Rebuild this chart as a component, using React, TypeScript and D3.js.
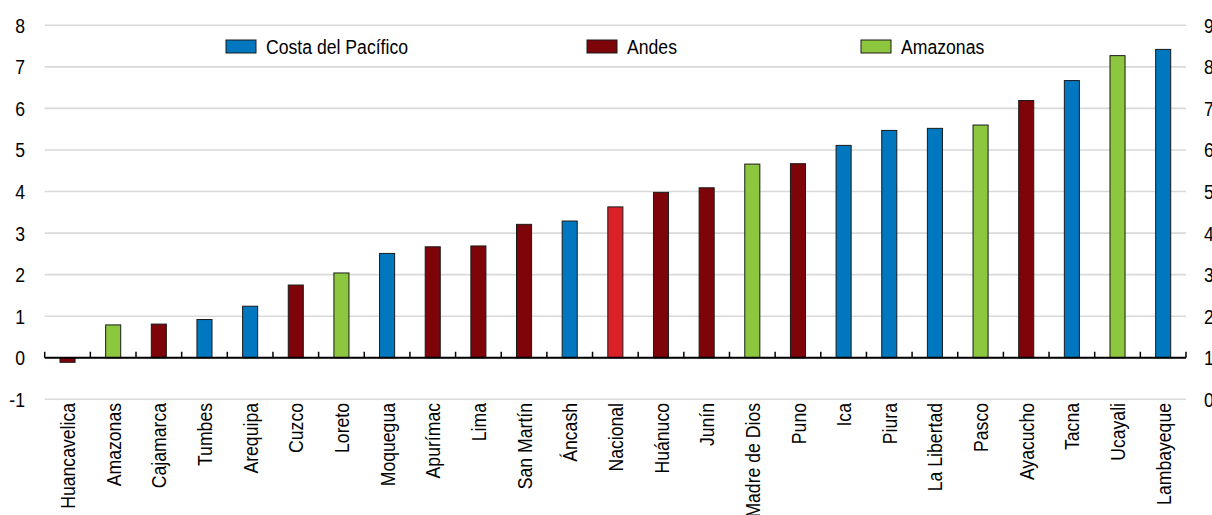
import React from "react";
import * as d3 from "d3";

const categories = ["Huancavelica","Amazonas","Cajamarca","Tumbes","Arequipa","Cuzco","Loreto","Moquegua","Apurímac","Lima","San Martín","Áncash","Nacional","Huánuco","Junín","Madre de Dios","Puno","Ica","Piura","La Libertad","Pasco","Ayacucho","Tacna","Ucayali","Lambayeque"];
const values = [-0.11,0.79,0.81,0.92,1.24,1.75,2.04,2.51,2.67,2.69,3.21,3.29,3.63,3.98,4.09,4.66,4.67,5.11,5.47,5.52,5.6,6.19,6.67,7.27,7.42];
const regions = ["Andes","Amazonas","Andes","Costa","Costa","Andes","Amazonas","Costa","Andes","Andes","Andes","Costa","Nacional","Andes","Andes","Amazonas","Andes","Costa","Costa","Costa","Amazonas","Andes","Costa","Amazonas","Costa"];
const leftTicks = [-1,0,1,2,3,4,5,6,7,8];
const rightTicks = [0,1,2,3,4,5,6,7,8,9];
const legendKeys = ["Costa","Andes","Amazonas"];
const legendLabels = ["Costa del Pacífico","Andes","Amazonas"];

const colors: Record<string,string> = {
  Costa: "#0077be",
  Andes: "#7d0408",
  Amazonas: "#8dc63f",
  Nacional: "#da2128",
};

const W = 1212, H = 515;
const X0 = 44.7, X1 = 1186;
const Y_TOP = 25.3, Y_BOT = 399.3;
const FONT = "'Liberation Sans', Arial, sans-serif";
const SX = 0.84;
const FS = 21;

export default function App() {
  const x = d3.scaleBand<string>().domain(categories).range([X0, X1]).paddingInner(0.67).paddingOuter(0.335);
  const y = d3.scaleLinear().domain([-1, 8]).range([Y_BOT, Y_TOP]);
  const yR = d3.scaleLinear().domain([0, 9]).range([Y_BOT, Y_TOP]);
  const step = (X1 - X0) / categories.length;
  const legendX = [226, 587, 861];

  return (
    <svg width={W} height={H} style={{ position: "absolute", left: 0, top: 0, background: "#fff" }}>
      {leftTicks.map((t) => (
        <line key={"g" + t} x1={X0} x2={X1} y1={y(t)} y2={y(t)} stroke="#d9d9d9" strokeWidth={1.6} />
      ))}
      {leftTicks.map((t) => (
        <text key={"l" + t} transform={`translate(25,${y(t) + 7.5}) scale(${SX},1)`} textAnchor="end" fontFamily={FONT} fontSize={FS} fill="#000">{t}</text>
      ))}
      {rightTicks.map((t) => (
        <text key={"r" + t} transform={`translate(1204,${yR(t) + 7.5}) scale(${SX},1)`} textAnchor="start" fontFamily={FONT} fontSize={FS} fill="#000">{t}</text>
      ))}
      {categories.map((c, i) => {
        const v = values[i];
        const y0 = y(0), yv = y(v);
        return (
          <rect key={c} x={x(c)} y={Math.min(y0, yv)} width={x.bandwidth()} height={Math.abs(yv - y0)} fill={colors[regions[i]]} stroke="#1a1a1a" strokeWidth={1} />
        );
      })}
      <line x1={X0} x2={X1} y1={y(0)} y2={y(0)} stroke="#000" strokeWidth={1.8} />
      {d3.range(categories.length + 1).map((i) => (
        <line key={"t" + i} x1={X0 + i * step} x2={X0 + i * step} y1={y(0)} y2={y(0) - 6} stroke="#000" strokeWidth={1.5} />
      ))}
      {categories.map((c) => (
        <text key={"c" + c} transform={`translate(${(x(c) as number) + x.bandwidth() / 2},403) rotate(-90) scale(${SX},1)`} dy="0.36em" textAnchor="end" fontFamily={FONT} fontSize={FS} fill="#000">{c}</text>
      ))}
      {legendKeys.map((k, i) => (
        <g key={"lg" + k}>
          <rect x={legendX[i]} y={40} width={30} height={13} fill={colors[k]} stroke="#1a1a1a" strokeWidth={1} />
          <text transform={`translate(${legendX[i] + 40},53.5) scale(${SX},1)`} fontFamily={FONT} fontSize={FS} fill="#000">{legendLabels[i]}</text>
        </g>
      ))}
    </svg>
  );
}
